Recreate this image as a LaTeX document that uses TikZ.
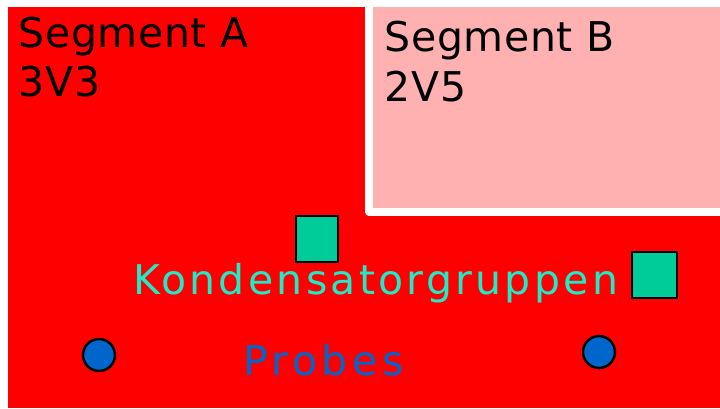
\documentclass[tikz,border=0pt]{standalone}
\usepackage{fontspec}
\setmainfont{DejaVu Sans}
\definecolor{segred}{HTML}{FF0000}
\definecolor{segpink}{HTML}{FFB0B0}
\definecolor{kondgreen}{HTML}{00CC99}
\definecolor{kondtext}{HTML}{1EEBC8}
\definecolor{probeblue}{HTML}{0066CC}
\tikzset{%
    big/.style={inner sep=0pt, anchor=base west, align=left, font=\fontsize{41}{49}\selectfont},
    kond/.style={draw=black, line width=2.5pt, fill=kondgreen, inner sep=0pt},
    probe/.style={circle, draw=black, line width=2.5pt, fill=probeblue, inner sep=0pt, minimum size=32pt},
}

\begin{document}
\begin{tikzpicture}[x=1pt,y=-1pt]
    \useasboundingbox (0,0) rectangle (720,408);
    \fill[segred] (8,7) rectangle (720,408);
    \fill[segpink] (369,7) rectangle (720,212);
    \draw[white, line width=8pt, line join=round] (369,7) -- (369,212) -- (720,212);
    \node[big, font=\fontsize{41}{49}\selectfont\addfontfeature{LetterSpace=1.5}] (segA) at (18.5,96) {Segment A\\3V3};
    \node[big, font=\fontsize{41}{50}\selectfont\addfontfeature{LetterSpace=1.5}] (segB) at (384.5,101) {Segment B\\2V5};
    \node[kond, minimum width=42pt, minimum height=46pt] (k1) at (317,239) {};
    \node[kond, minimum width=45pt, minimum height=46pt] (k2) at (654.5,275) {};
    \node[big, text=kondtext, font=\fontsize{41}{49}\selectfont\addfontfeature{LetterSpace=8}] (kondlbl) at (133,294) {Kondensatorgruppen};
    \node[probe] (p1) at (99,355) {};
    \node[probe] (p2) at (599,352) {};
    \node[big, text=probeblue, font=\fontsize{41}{49}\selectfont\addfontfeature{LetterSpace=11}] (probelbl) at (243,375) {Probes};
\end{tikzpicture}
\end{document}
